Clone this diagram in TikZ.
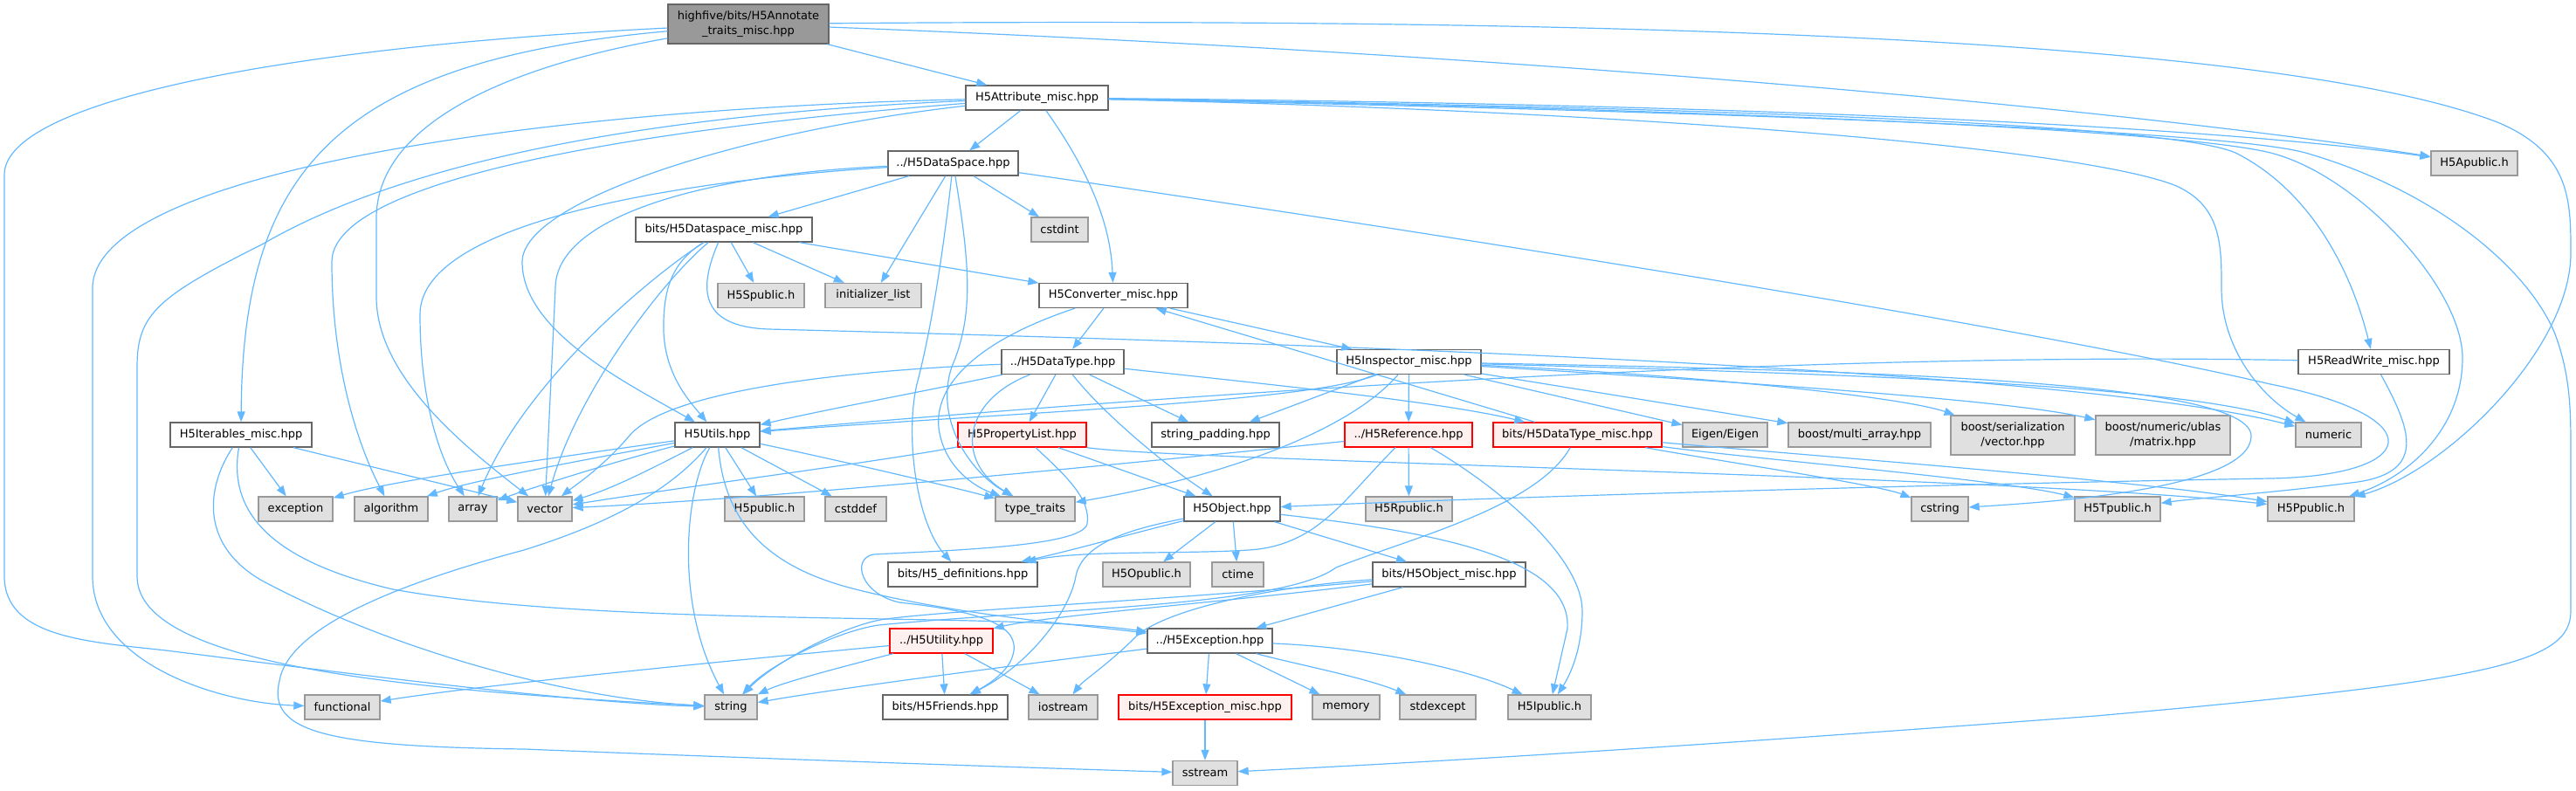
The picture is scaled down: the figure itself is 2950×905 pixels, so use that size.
\documentclass[tikz,border=0pt]{standalone}
\usepackage{fontspec}
\setmainfont{DejaVu Sans}
\usetikzlibrary{arrows.meta}
\definecolor{edgec}{HTML}{63B8FF}
\definecolor{bordn}{HTML}{666666}
\definecolor{borde}{HTML}{999999}
\definecolor{fille}{HTML}{E0E0E0}
\definecolor{fillr}{HTML}{FFF0F0}
\definecolor{fillroot}{HTML}{999999}
\tikzset{
  basebox/.style={line width=1.3pt, inner sep=0pt, minimum height=28pt, align=center,
    font=\fontsize{13}{16.5}\selectfont, text=black},
  nrm/.style={basebox, draw=bordn, fill=white},
  ext/.style={basebox, draw=borde, fill=fille},
  redb/.style={basebox, draw=red, fill=fillr},
  rootb/.style={basebox, draw=bordn, fill=fillroot},
  edg/.style={draw=edgec, line width=1.2pt, -{Triangle[length=12pt,width=9pt]}}
}
\begin{document}
\begin{tikzpicture}[x=1pt,y=-1pt]
\path[use as bounding box] (0,0) rectangle (2950,905);
% ---------- nodes ----------
\node[rootb, minimum width=184pt, minimum height=45pt] (root) at (857,27.5) {highfive/bits/H5Annotate\\\_traits\_misc.hpp};
\node[nrm, minimum width=163pt] (attr) at (1187.5,112) {H5Attribute\_misc.hpp};
\node[nrm, minimum width=149pt] (dspace) at (1091.5,187) {../H5DataSpace.hpp};
\node[ext, minimum width=99pt] (apub) at (2833.5,187) {H5Apublic.h};
\node[nrm, minimum width=202pt] (dsmisc) at (829,263) {bits/H5Dataspace\_misc.hpp};
\node[ext, minimum width=65pt] (cstdint) at (1213.5,263) {cstdint};
\node[ext, minimum width=99pt] (spub) at (871.5,338.5) {H5Spublic.h};
\node[ext, minimum width=110pt] (initl) at (1000,338.5) {initializer\_list};
\node[nrm, minimum width=170pt] (conv) at (1275,338.5) {H5Converter\_misc.hpp};
\node[nrm, minimum width=140pt] (dtype) at (1217,414.5) {../H5DataType.hpp};
\node[nrm, minimum width=165pt] (insp) at (1613.5,414.5) {H5Inspector\_misc.hpp};
\node[nrm, minimum width=173pt] (rw) at (2718.5,414.5) {H5ReadWrite\_misc.hpp};
\node[nrm, minimum width=162pt] (iter) at (276,498) {H5Iterables\_misc.hpp};
\node[nrm, minimum width=97pt] (utils) at (821.5,498) {H5Utils.hpp};
\node[redb, minimum width=147pt] (plist) at (1170.5,498) {H5PropertyList.hpp};
\node[nrm, minimum width=146pt] (strpad) at (1392,498) {string\_padding.hpp};
\node[redb, minimum width=146pt] (ref) at (1613,498) {../H5Reference.hpp};
\node[redb, minimum width=193pt] (dtmisc) at (1806.5,498) {bits/H5DataType\_misc.hpp};
\node[ext, minimum width=97pt] (eigen) at (1975.5,498) {Eigen/Eigen};
\node[ext, minimum width=163pt] (bma) at (2129.5,498) {boost/multi\_array.hpp};
\node[ext, minimum width=142pt, minimum height=45pt] (bser) at (2305,498.5) {boost/serialization\\/vector.hpp};
\node[ext, minimum width=154pt, minimum height=45pt] (bnum) at (2477,498.5) {boost/numeric/ublas\\/matrix.hpp};
\node[ext, minimum width=75pt] (numeric) at (2666.5,498) {numeric};
\node[ext, minimum width=85pt] (exception) at (338.5,583) {exception};
\node[ext, minimum width=84pt] (algorithm) at (448,583) {algorithm};
\node[ext, minimum width=55pt] (array) at (541.5,583) {array};
\node[ext, minimum width=62pt] (vector) at (624,583) {vector};
\node[ext, minimum width=91pt] (h5pub) at (875.5,583) {H5public.h};
\node[ext, minimum width=70pt] (cstddef) at (980,583) {cstddef};
\node[ext, minimum width=91pt] (ttraits) at (1185.5,583) {type\_traits};
\node[nrm, minimum width=110pt] (obj) at (1411,583) {H5Object.hpp};
\node[ext, minimum width=99pt] (rpub) at (1613.5,583) {H5Rpublic.h};
\node[ext, minimum width=65pt] (cstring) at (2221.5,583) {cstring};
\node[ext, minimum width=98pt] (tpub) at (2425,583) {H5Tpublic.h};
\node[ext, minimum width=99pt] (ppub) at (2646.5,583) {H5Ppublic.h};
\node[nrm, minimum width=171pt] (defs) at (1102.5,658) {bits/H5\_definitions.hpp};
\node[ext, minimum width=100pt] (opub) at (1313,658) {H5Opublic.h};
\node[ext, minimum width=59pt] (ctime) at (1417.5,658) {ctime};
\node[nrm, minimum width=175pt] (omisc) at (1659.5,658) {bits/H5Object\_misc.hpp};
\node[redb, minimum width=118pt] (utility) at (1078,734) {../H5Utility.hpp};
\node[nrm, minimum width=143pt] (exc) at (1385.5,734) {../H5Exception.hpp};
\node[ext, minimum width=86pt] (functional) at (392,810) {functional};
\node[ext, minimum width=60pt] (string) at (837,810) {string};
\node[nrm, minimum width=143pt] (friends) at (1082.5,810) {bits/H5Friends.hpp};
\node[ext, minimum width=79pt] (iostream) at (1217.5,810) {iostream};
\node[redb, minimum width=198pt] (excmisc) at (1380,810) {bits/H5Exception\_misc.hpp};
\node[ext, minimum width=77pt] (memory) at (1541.5,810) {memory};
\node[ext, minimum width=87pt] (stdexcept) at (1646.5,810) {stdexcept};
\node[ext, minimum width=95pt] (ipub) at (1774.5,810) {H5Ipublic.h};
\node[ext, minimum width=74pt] (sstream) at (1380,885.5) {sstream};
% ---------- edges: root ----------
\draw[edg] (root) -- (attr);
\draw[edg] (root) .. controls (380,70) and (278,200) .. (iter);
\draw[edg] (root) .. controls (1700,60) and (2400,120) .. (apub);
\draw[edg] (root) .. controls (1800,20) and (2600,40) .. (2860,140) .. controls (2944,175) and (2944,230) .. (2944,290) .. controls (2944,400) and (2800,540) .. (ppub);
\draw[edg] (root) .. controls (300,55) and (5,120) .. (5,200) -- (5,660) .. controls (5,730) and (100,735) .. (190,745) .. controls (350,765) and (650,805) .. (string);
\draw[edg] (root) .. controls (560,80) and (431,150) .. (431,250) -- (431,340) .. controls (431,430) and (530,510) .. (vector);
% ---------- attr ----------
\draw[edg] (attr) -- (dspace);
\draw[edg] (attr) .. controls (1900,118) and (2500,140) .. (apub);
\draw[edg] (attr) .. controls (1250,200) and (1272,260) .. (conv);
\draw[edg] (attr) .. controls (1900,122) and (2480,140) .. (2560,175) .. controls (2640,215) and (2690,300) .. (rw);
\draw[edg] (attr) .. controls (1900,128) and (2380,170) .. (2490,212) .. controls (2544,235) and (2544,280) .. (2544,330) .. controls (2544,400) and (2590,455) .. (numeric);
\draw[edg] (attr) .. controls (2000,125) and (2500,150) .. (2600,175) .. controls (2700,200) and (2820,330) .. (2820,410) .. controls (2820,490) and (2760,545) .. (ppub);
\draw[edg] (attr) .. controls (2000,128) and (2550,150) .. (2640,175) .. controls (2780,215) and (2890,300) .. (2925,380) .. controls (2944,430) and (2944,470) .. (2944,520) -- (2944,700) .. controls (2944,760) and (2850,780) .. (2400,820) .. controls (2000,850) and (1700,870) .. (sstream);
\draw[edg] (attr) .. controls (850,150) and (598,230) .. (598,300) .. controls (598,380) and (720,440) .. (utils);
\draw[edg] (attr) .. controls (700,150) and (380,210) .. (380,300) .. controls (380,420) and (410,510) .. (algorithm);
\draw[edg] (attr) .. controls (600,125) and (106,200) .. (106,330) -- (106,660) .. controls (106,760) and (250,805) .. (functional);
\draw[edg] (attr) .. controls (650,135) and (420,210) .. (300,280) .. controls (180,340) and (157,360) .. (157,420) -- (157,660) .. controls (157,760) and (450,790) .. (string);
% ---------- dspace ----------
\draw[edg] (dspace) -- (dsmisc);
\draw[edg] (dspace) -- (cstdint);
\draw[edg] (dspace) .. controls (800,205) and (481,250) .. (481,360) .. controls (481,450) and (500,520) .. (array);
\draw[edg] (dspace) .. controls (800,200) and (636,250) .. (636,330) -- (vector);
\draw[edg] (dspace) -- (initl);
\draw[edg] (dspace) .. controls (1080,290) and (1066,380) .. (1050,440) .. controls (1036,500) and (1050,600) .. (defs);
\draw[edg] (dspace) .. controls (1110,300) and (1116,360) .. (1090,420) .. controls (1070,480) and (1110,540) .. (ttraits);
\draw[edg] (dspace) .. controls (1600,260) and (2300,370) .. (2600,440) .. controls (2790,478) and (2770,545) .. (2600,548) .. controls (2200,555) and (1700,570) .. (obj);
% ---------- dsmisc ----------
\draw[edg] (dsmisc) -- (spub);
\draw[edg] (dsmisc) -- (initl);
\draw[edg] (dsmisc) -- (conv);
\draw[edg] (dsmisc) .. controls (800,330) and (800,374) .. (880,377) .. controls (1700,398) and (2400,430) .. (numeric);
\draw[edg] (dsmisc) .. controls (770,300) and (759,330) .. (760,380) .. controls (762,430) and (790,460) .. (utils);
\draw[edg] (dsmisc) .. controls (740,320) and (600,440) .. (array);
\draw[edg] (dsmisc) .. controls (760,320) and (660,450) .. (vector);
% ---------- conv ----------
\draw[edg] (conv) -- (insp);
\draw[edg] (conv) -- (dtype);
\draw[edg] (conv) .. controls (1120,390) and (1070,440) .. (1075,490) .. controls (1080,530) and (1110,555) .. (ttraits);
% ---------- dtype ----------
\draw[edg] (dtype) .. controls (1050,450) and (950,468) .. (utils);
\draw[edg] (dtype) .. controls (950,425) and (760,450) .. (720,500) .. controls (690,535) and (660,555) .. (vector);
\draw[edg] (dtype) .. controls (1100,460) and (1095,530) .. (ttraits);
\draw[edg] (dtype) -- (plist);
\draw[edg] (dtype) .. controls (1260,470) and (1330,530) .. (obj);
\draw[edg] (dtype) -- (strpad);
\draw[edg] (dtype) .. controls (1450,440) and (1650,460) .. (dtmisc);
% ---------- insp ----------
\draw[edg] (insp) -- (ref);
\draw[edg] (insp) .. controls (1500,460) and (1200,470) .. (utils);
\draw[edg] (insp) -- (strpad);
\draw[edg] (insp) .. controls (1540,500) and (1380,550) .. (ttraits);
\draw[edg] (insp) -- (eigen);
\draw[edg] (insp) -- (bma);
\draw[edg] (insp) .. controls (1950,430) and (2180,455) .. (bser);
\draw[edg] (insp) .. controls (2000,438) and (2300,458) .. (bnum);
\draw[edg] (insp) .. controls (2100,428) and (2500,440) .. (numeric);
\draw[edg] (insp) .. controls (2200,425) and (2580,440) .. (2578,500) .. controls (2576,560) and (2350,575) .. (cstring);
% ---------- ref ----------
\draw[edg] (ref) -- (rpub);
\draw[edg] (ref) .. controls (1720,560) and (1812,640) .. (1812,700) .. controls (1812,740) and (1800,770) .. (ipub);
\draw[edg] (ref) .. controls (1300,530) and (900,570) .. (vector);
\draw[edg] (ref) .. controls (1540,570) and (1510,625) .. (1430,630) .. controls (1350,635) and (1240,630) .. (defs);
% ---------- plist ----------
\draw[edg] (plist) .. controls (1000,530) and (800,555) .. (vector);
\draw[edg] (plist) -- (obj);
\draw[edg] (plist.south east) .. controls (1350,528) and (2300,545) .. (ppub);
\draw[edg] (plist) .. controls (1215,540) and (1250,570) .. (1245,600) .. controls (1240,625) and (1100,630) .. (1000,635) .. controls (975,640) and (985,680) .. (1030,690) .. controls (1120,700) and (1170,715) .. (1160,750) .. controls (1155,770) and (1130,785) .. (friends);
% ---------- obj ----------
\draw[edg] (obj) .. controls (1300,610) and (1230,630) .. (defs);
\draw[edg] (obj) .. controls (1300,605) and (1240,620) .. (1232,660) .. controls (1225,700) and (1180,760) .. (friends);
\draw[edg] (obj) -- (opub);
\draw[edg] (obj) -- (ctime);
\draw[edg] (obj) -- (omisc);
\draw[edg] (obj) .. controls (1650,610) and (1800,640) .. (1795,720) -- (ipub);
% ---------- omisc ----------
\draw[edg] (omisc) -- (exc);
\draw[edg] (omisc) .. controls (1400,690) and (1200,705) .. (utility);
\draw[edg] (omisc) .. controls (1450,672) and (1330,700) .. (1300,730) .. controls (1270,760) and (1240,780) .. (iostream);
\draw[edg] (omisc) .. controls (1300,690) and (1100,698) .. (1014,709) .. controls (965,716) and (885,760) .. (string);
% ---------- exc ----------
\draw[edg] (exc) .. controls (1100,770) and (950,790) .. (string);
\draw[edg] (exc) -- (excmisc);
\draw[edg] (exc) -- (memory);
\draw[edg] (exc) .. controls (1480,760) and (1560,775) .. (stdexcept);
\draw[edg] (exc) .. controls (1580,742) and (1690,770) .. (ipub);
\draw[edg] (excmisc) -- (sstream);
% ---------- utility ----------
\draw[edg] (utility) .. controls (800,760) and (550,785) .. (functional);
\draw[edg] (utility) .. controls (980,760) and (900,780) .. (string);
\draw[edg] (utility) -- (friends);
\draw[edg] (utility) -- (iostream);
% ---------- iter ----------
\draw[edg] (iter) -- (exception);
\draw[edg] (iter) -- (vector);
\draw[edg] (iter) .. controls (235,560) and (230,625) .. (300,665) .. controls (450,745) and (650,800) .. (string);
\draw[edg] (iter) .. controls (262,580) and (300,640) .. (450,675) .. controls (700,720) and (1150,700) .. (exc);
% ---------- utils ----------
\draw[edg] (utils) .. controls (650,522) and (450,550) .. (exception);
\draw[edg] (utils) .. controls (680,525) and (540,550) .. (algorithm);
\draw[edg] (utils) .. controls (700,530) and (620,555) .. (array);
\draw[edg] (utils) .. controls (740,540) and (700,560) .. (vector);
\draw[edg] (utils) .. controls (785,560) and (772,690) .. (string);
\draw[edg] (utils) -- (h5pub);
\draw[edg] (utils) -- (cstddef);
\draw[edg] (utils) .. controls (950,525) and (1080,555) .. (ttraits);
\draw[edg] (utils) .. controls (830,600) and (880,650) .. (980,675) .. controls (1100,705) and (1230,715) .. (exc);
\draw[edg] (utils) .. controls (760,570) and (680,605) .. (600,630) .. controls (450,670) and (330,720) .. (320,780) .. controls (305,840) and (380,855) .. (600,858) .. controls (900,870) and (1200,880) .. (sstream);
% ---------- dtmisc ----------
\draw[edg] (dtmisc) -- (conv);
\draw[edg] (dtmisc) .. controls (1950,525) and (2150,555) .. (cstring);
\draw[edg] (dtmisc) .. controls (2000,525) and (2300,550) .. (tpub);
\draw[edg] (dtmisc) .. controls (2050,520) and (2450,550) .. (ppub);
\draw[edg] (dtmisc) .. controls (1760,580) and (1620,615) .. (1530,650) .. controls (1470,695) and (1200,697) .. (1006,716) .. controls (958,723) and (880,762) .. (string);
% ---------- rw ----------
\draw[edg] (rw) .. controls (2000,400) and (1200,465) .. (utils);
\draw[edg] (rw) .. controls (2760,490) and (2780,540) .. (2700,552) .. controls (2600,565) and (2520,570) .. (tpub);
\end{tikzpicture}
\end{document}
